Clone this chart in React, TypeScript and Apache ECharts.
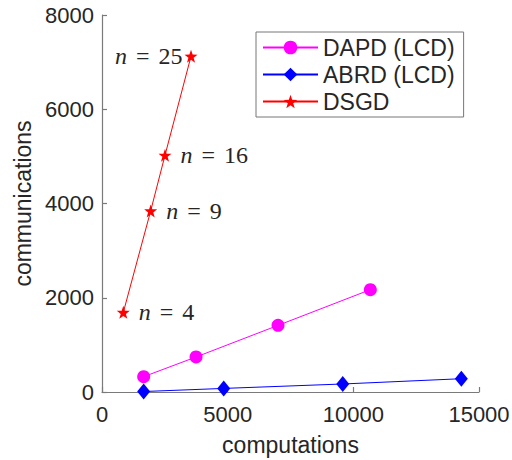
import React, { useEffect, useRef } from "react";
import * as echarts from "echarts";

const seriesNames = ["DAPD (LCD)", "ABRD (LCD)", "DSGD"];
const dapdX = [1658, 3741, 7004, 10677];
const dapdY = [325, 743, 1414, 2172];
const abrdX = [1658, 4843, 9578, 14298];
const abrdY = [10, 76, 170, 282];
const dsgdX = [848, 1937, 2507, 3542];
const dsgdY = [1690, 3843, 5023, 7125];
const dsgdN = [4, 9, 16, 25];
const xTicks = [0, 5000, 10000, 15000];
const yTicks = [0, 2000, 4000, 6000, 8000];

const STAR =
  "path://M0,-10 L2.35,-3.24 L9.51,-3.09 L3.8,1.24 L5.88,8.09 L0,4 L-5.88,8.09 L-3.8,1.24 L-9.51,-3.09 L-2.35,-3.24 Z";

const FONT = "Liberation Sans, Arial, sans-serif";
const SERIF = "Liberation Serif, serif";
const TXT = "#262626";
const AX = "#7a7a7a";

export default function App() {
  const ref = useRef<HTMLDivElement>(null);
  useEffect(() => {
    if (!ref.current) return;
    const chart = echarts.init(ref.current, undefined, { renderer: "svg" });
    const pair = (xs: number[], ys: number[]) => xs.map((x, i) => [x, ys[i]]);
    const dsgdData = dsgdX.map((x, i) => {
      const last = i === dsgdX.length - 1;
      return {
        value: [x, dsgdY[i]],
        label: {
          show: true,
          position: last ? "left" : "right",
          distance: last ? 2 : 9,
          formatter: "{n|n}{eq|=}{d|" + dsgdN[i] + "}",
          rich: {
            n: { fontStyle: "italic", fontFamily: SERIF, fontSize: 24, color: TXT },
            eq: { fontFamily: SERIF, fontSize: 24, color: TXT, padding: [0, 9, 0, 9] },
            d: { fontFamily: SERIF, fontSize: 24, color: TXT },
          },
        },
      };
    });
    chart.setOption({
      animation: false,
      backgroundColor: "#ffffff",
      textStyle: { fontFamily: FONT },
      grid: {
        left: 102,
        right: 33,
        top: 15,
        bottom: 68,
        containLabel: false,
        outerBoundsMode: "none",
      },
      legend: {
        orient: "vertical",
        left: 256,
        top: 32,
        width: 208,
        padding: [4, 9, 4, 6],
        itemGap: 4,
        itemWidth: 55,
        itemHeight: 17,
        borderColor: "#777777",
        borderWidth: 1,
        backgroundColor: "#ffffff",
        textStyle: { fontSize: 23, color: TXT, fontFamily: FONT },
        data: seriesNames,
      },
      xAxis: {
        type: "value",
        min: xTicks[0],
        max: xTicks[xTicks.length - 1],
        interval: 5000,
        name: "computations",
        nameLocation: "middle",
        nameGap: 41,
        nameTextStyle: { fontSize: 23, color: TXT, fontFamily: FONT },
        axisLine: { show: true, lineStyle: { color: AX, width: 1.2 } },
        axisTick: { show: true, inside: true, length: 5, lineStyle: { color: AX, width: 1.2 } },
        axisLabel: {
          fontSize: 22,
          color: TXT,
          fontFamily: FONT,
          margin: 11,
          formatter: (v: number) => String(v),
        },
        splitLine: { show: false },
      },
      yAxis: {
        type: "value",
        min: yTicks[0],
        max: yTicks[yTicks.length - 1],
        interval: 2000,
        name: "communications",
        nameLocation: "middle",
        nameGap: 68,
        nameTextStyle: { fontSize: 23, color: TXT, fontFamily: FONT },
        axisLine: { show: true, lineStyle: { color: AX, width: 1.2 } },
        axisTick: { show: true, inside: true, length: 5, lineStyle: { color: AX, width: 1.2 } },
        axisLabel: {
          fontSize: 22,
          color: TXT,
          fontFamily: FONT,
          margin: 8,
          formatter: (v: number) => String(v),
        },
        splitLine: { show: false },
      },
      series: [
        {
          name: seriesNames[0],
          type: "line",
          data: pair(dapdX, dapdY),
          symbol: "circle",
          symbolSize: 13,
          color: "#ff00ff",
          lineStyle: { width: 1, color: "#ff00ff" },
          itemStyle: { color: "#ff00ff" },
        },
        {
          name: seriesNames[1],
          type: "line",
          data: pair(abrdX, abrdY),
          symbol: "diamond",
          symbolSize: [13, 16],
          color: "#0000ff",
          lineStyle: { width: 1, color: "#0000ff" },
          itemStyle: { color: "#0000ff" },
        },
        {
          name: seriesNames[2],
          type: "line",
          data: dsgdData,
          symbol: STAR,
          symbolSize: 13,
          color: "#ff0000",
          lineStyle: { width: 1, color: "#ff0000" },
          itemStyle: { color: "#ff0000" },
        },
      ],
    });
    return () => chart.dispose();
  }, []);
  return (
    <div
      ref={ref}
      style={{ position: "fixed", left: 0, top: 0, width: 512, height: 460 }}
    />
  );
}
